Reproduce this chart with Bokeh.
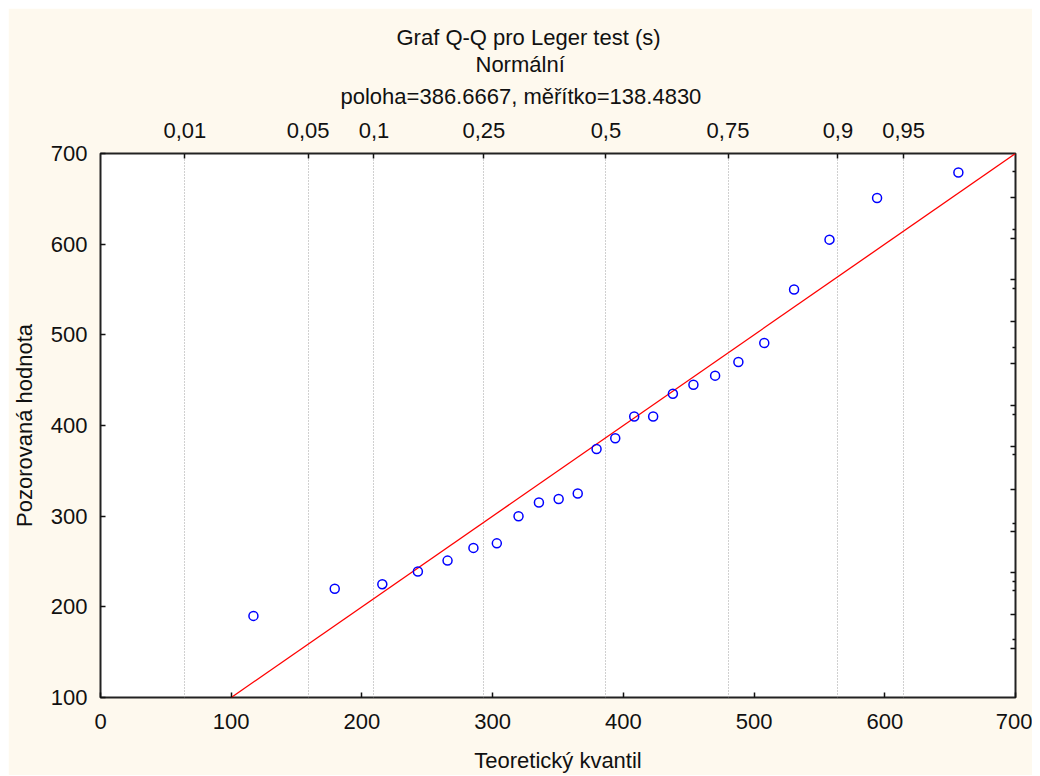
from bokeh.plotting import figure
from bokeh.models import LinearAxis, FixedTicker, Grid, Title, CustomJSTickFormatter, Range1d
from bokeh.embed import file_html
from bokeh.resources import INLINE

# ---- data ----
theoretical = [117.0, 179.2, 215.6, 242.8, 265.5, 285.3, 303.2, 319.8, 335.4, 350.5, 365.1, 379.5,
               393.8, 408.3, 422.8, 437.9, 453.6, 470.2, 488.0, 507.8, 530.6, 557.7, 594.1, 656.3]
observed = [190, 220, 225, 239, 251, 265, 270, 300, 315, 319, 325, 374,
            386, 410, 410, 435, 445, 455, 470, 491, 550, 605, 651, 679]
loc = 386.6667
scale = 138.4830
prob_labels = ["0,01", "0,05", "0,1", "0,25", "0,5", "0,75", "0,9", "0,95"]
prob_z = [-2.3263, -1.6449, -1.2816, -0.6745, 0.0, 0.6745, 1.2816, 1.6449]
x_ticks = [0, 100, 200, 300, 400, 500, 600, 700]
y_ticks = [100, 200, 300, 400, 500, 600, 700]
ref_line = [100, 700]
right_major = [652, 606, 561, 515, 468, 422, 377, 329, 283, 238, 192, 154]
right_minor = [680, 616, 551, 486, 412, 368, 292, 228, 218, 164]
title_lines = ["Graf Q-Q pro Leger test (s)", "Normální", "poloha=386.6667, měřítko=138.4830"]

q_pos = [loc + scale * z for z in prob_z]

FONT = "Liberation Sans"
FS = "22px"
TXT = "#111111"
CREAM = "#FEF9EE"

p = figure(width=1024, height=767, x_range=Range1d(0, 700), y_range=Range1d(100, 700),
           output_backend="svg", toolbar_location=None,
           min_border_left=89, min_border_right=17, min_border_top=145, min_border_bottom=78,
           background_fill_color="white", border_fill_color=CREAM,
           outline_line_color="#222222", outline_line_width=2,
           x_axis_label="Teoretický kvantil", y_axis_label="Pozorovaná hodnota")
p.margin = (8, 8, 0, 8)
p.xgrid.visible = False
p.ygrid.visible = False


def style(ax):
    ax.axis_line_color = None
    ax.major_tick_in = 5
    ax.major_tick_out = 0
    ax.minor_tick_in = 0
    ax.minor_tick_out = 0
    ax.major_tick_line_color = "#111111"
    ax.major_tick_line_width = 1.5
    ax.major_label_text_font = FONT
    ax.major_label_text_font_size = FS
    ax.major_label_text_color = TXT
    ax.axis_label_text_font = FONT
    ax.axis_label_text_font_size = FS
    ax.axis_label_text_font_style = "normal"
    ax.axis_label_text_color = TXT


xa = p.xaxis[0]
xa.ticker = FixedTicker(ticks=x_ticks)
style(xa)
xa.major_label_standoff = 16
xa.axis_label_standoff = 16

ya = p.yaxis[0]
ya.ticker = FixedTicker(ticks=y_ticks)
style(ya)
ya.major_label_standoff = 13
ya.axis_label_standoff = 11

top = LinearAxis(ticker=FixedTicker(ticks=q_pos),
                 formatter=CustomJSTickFormatter(args=dict(labels=prob_labels), code="return labels[index];"))
style(top)
top.major_label_standoff = 16
p.add_layout(top, "above")

right = LinearAxis(ticker=FixedTicker(ticks=right_major, minor_ticks=right_minor),
                   formatter=CustomJSTickFormatter(code="return '';"))
style(right)
right.major_label_standoff = 0
right.minor_tick_in = 3
right.minor_tick_line_color = "#111111"
right.minor_tick_line_width = 1.5
p.add_layout(right, "right")

p.add_layout(Grid(dimension=0, ticker=FixedTicker(ticks=q_pos),
                  grid_line_color="#a0a0a0", grid_line_dash="1 2", grid_line_width=1))

p.line(ref_line, ref_line, line_color="#ff0000", line_width=1.3)
p.scatter(theoretical, observed, marker="circle", size=9, fill_color=None,
          line_color="#0000ff", line_width=1.5)

# titles stacked outward from the top axis: (text, left offset, standoff)
title_specs = [(title_lines[2], 240, 21), (title_lines[1], 375, -10), (title_lines[0], 296, 10)]
for t, off, so in title_specs:
    p.add_layout(Title(text=t, align="left", offset=off, standoff=so,
                       text_font=FONT, text_font_size=FS, text_font_style="normal",
                       text_color=TXT), "above")

open("out.html", "w").write(file_html(p, INLINE))
